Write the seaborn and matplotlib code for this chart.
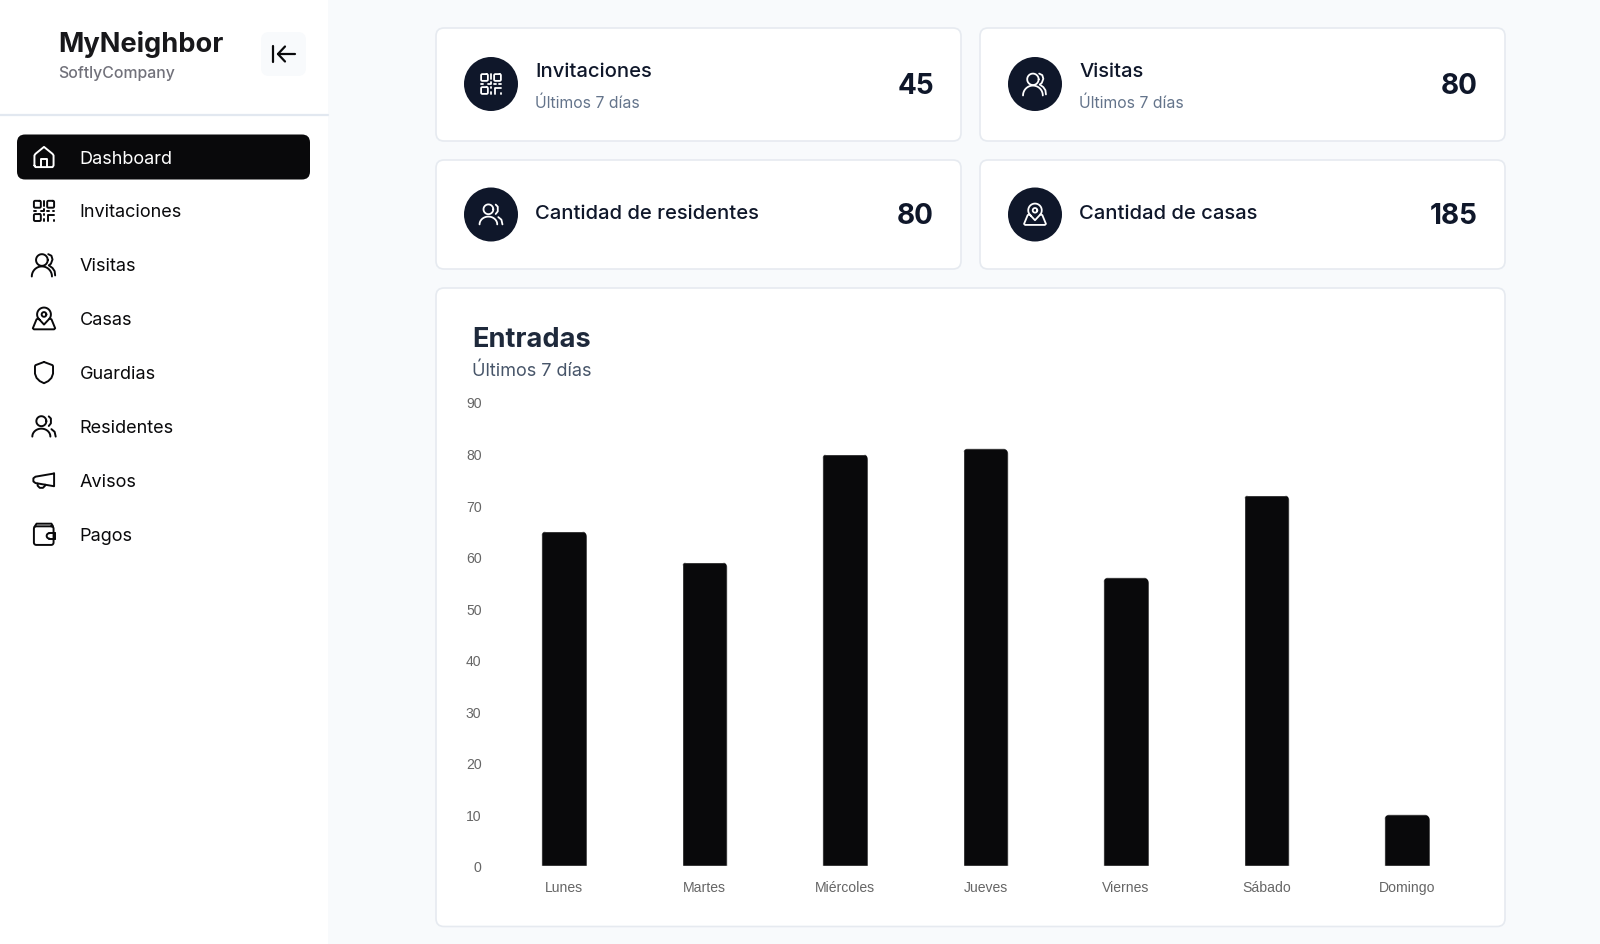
import numpy as np
import pandas as pd
import seaborn as sns
import matplotlib
matplotlib.use("Agg")
import matplotlib.pyplot as plt
from matplotlib.patches import FancyBboxPatch, Rectangle, Circle
from matplotlib.path import Path
from matplotlib.transforms import IdentityTransform

days = ["Lunes", "Martes", "Miércoles", "Jueves", "Viernes", "Sábado", "Domingo"]
entries = [65, 59, 80, 81, 56, 72, 10]
y_ticks = [0, 10, 20, 30, 40, 50, 60, 70, 80, 90]
nav_items = ["Dashboard", "Invitaciones", "Visitas", "Casas", "Guardias", "Residentes", "Avisos", "Pagos"]
nav_icons = ["home", "qr", "users2", "pin", "shield", "users", "mega", "wallet"]

W, H = 1600, 945
sns.set_theme(style="white")
plt.rcParams["font.family"] = ["Inter", "DejaVu Sans"]

fig = plt.figure(figsize=(W / 100, H / 100), dpi=100, facecolor="#f8fafc")
bg = fig.add_axes([0, 0, 1, 1], zorder=0)
bg.set_xlim(0, W); bg.set_ylim(H, 0); bg.axis("off")


def px(v):
    return v * 0.72


def box(x0, y0, x1, y1, r, fc, ec="none", lw=0.0, z=1):
    bg.add_patch(FancyBboxPatch((x0 + r, y0 + r), x1 - x0 - 2 * r, y1 - y0 - 2 * r,
                                boxstyle=f"round,pad={r},rounding_size={r}",
                                fc=fc, ec=ec, lw=lw, zorder=z))


def arc(cx, cy, rx, ry, a0, a1, n=30):
    t = np.radians(np.linspace(a0, a1, n))
    return np.c_[cx + rx * np.cos(t), cy + ry * np.sin(t)]


def rrect(x0, y0, x1, y1, r):
    return np.vstack([arc(x1 - r, y0 + r, r, r, -90, 0, 8), arc(x1 - r, y1 - r, r, r, 0, 90, 8),
                      arc(x0 + r, y1 - r, r, r, 90, 180, 8), arc(x0 + r, y0 + r, r, r, 180, 270, 8),
                      [[x1 - r, y0]]])


ICONS = {
    "home": [np.array([[3, 20], [3, 10.5], [4, 9], [12, 2.5], [20, 9], [21, 10.5], [21, 20], [20, 21.5], [4, 21.5], [3, 20]]),
             np.array([[9, 21.5], [9, 14], [15, 14], [15, 21.5]])],
    "qr": [rrect(2.5, 2.5, 9, 9, 1.2), rrect(15, 2.5, 21.5, 9, 1.2), rrect(2.5, 15, 9, 21.5, 1.2),
           np.array([[12, 2.5], [12, 7]]), np.array([[12, 10], [12, 12], [9.5, 12]]), np.array([[2.5, 12], [4.5, 12]]),
           np.array([[15, 12], [16.5, 12]]), np.array([[20, 12], [21.5, 12]]), np.array([[12, 15], [12, 16]]),
           np.array([[12, 20], [12, 21.5]]),
           np.array([[15.5, 21.5], [15.5, 15.5], [21.5, 15.5]]), np.array([[21.5, 21], [21.5, 21.5]])],
    "users2": [arc(10, 7.5, 5.5, 5.5, 0, 360), arc(10, 23, 9.5, 9.5, 180, 360, 20)[:20],
               np.array([[16, 2], [19, 3.5], [20, 7], [18.5, 11], [16.5, 12.5], [20, 15], [22, 18], [22.5, 22]])],
    "users": [arc(9.5, 7, 4.7, 4.7, 0, 360), arc(9.5, 21.5, 8.5, 7.5, 180, 360, 20),
              np.array([[16.5, 2.5], [18.5, 4.5], [18.5, 9], [16.5, 11.5]]), np.array([[19, 14.5], [22, 17], [23, 21.5]])],
    "pin": [np.vstack([arc(12, 8, 6.5, 6.5, 130, 410), [[12, 17.5]], arc(12, 8, 6.5, 6.5, 130, 131, 2)]),
            arc(12, 8, 2.2, 2.2, 0, 360),
            np.array([[7, 12], [5, 12.5], [1.5, 21], [2.5, 22], [21.5, 22], [22.5, 21], [19, 12.5], [17, 12]])],
    "shield": [np.array([[12, 2], [4, 5], [3.5, 6], [3.5, 13], [5, 17], [8, 20], [12, 22], [16, 20], [19, 17], [20.5, 13], [20.5, 6], [20, 5], [12, 2]])],
    "mega": [np.array([[21.5, 5.5], [21.5, 17.5], [4, 14.5], [2, 13], [2, 10], [4, 8.5], [21.5, 5.5]]),
             np.array([[6, 15], [6, 17], [8, 19], [11, 19], [13, 17], [13, 16]])],
    "wallet": [rrect(2.5, 4.5, 21, 22, 2.2), np.array([[3, 5], [5, 2], [19, 2], [20.5, 4.5]]),
               np.array([[22, 11], [17, 11]]), arc(17, 13.5, 2.5, 2.5, 90, 270, 12), np.array([[22, 16], [17, 16]]),
               np.array([[22, 11], [22, 16]])],
}


def icon(name, cx, cy, size, color, lw):
    k = size / 24.0
    for seg in ICONS[name]:
        seg = np.asarray(seg, float)
        bg.plot(cx + (seg[:, 0] - 12) * k, cy + (seg[:, 1] - 12) * k, color=color, lw=lw,
                solid_capstyle="round", solid_joinstyle="round", zorder=5)


# Sidebar
bg.add_patch(Rectangle((0, 0), 328, H, fc="white", ec="none", zorder=1))
bg.plot([0, 328], [116, 116], color="#e2e8f0", lw=1.6, zorder=2)
bg.text(58, 44, "MyNeighbor", fontsize=px(27.2), fontweight="bold", color="#18181b", va="center", ha="left", zorder=5)
bg.text(58.5, 73.5, "SoftlyCompany", fontsize=px(15.8), fontweight="medium", color="#71717a", va="center", ha="left", zorder=5)
box(261, 33, 306, 77, 8, "#f8fafc")
bg.plot([273, 273], [46.5, 63], color="#09090b", lw=1.6, solid_capstyle="round", zorder=5)
bg.plot([295, 278], [55, 55], color="#09090b", lw=1.6, solid_capstyle="round", zorder=5)
bg.plot([285, 278, 285], [47.5, 55, 62.5], color="#09090b", lw=1.6, solid_capstyle="round", solid_joinstyle="round", zorder=5)
box(17, 135.5, 310, 180.5, 8, "#09090b", z=2)
for i, (label, ic) in enumerate(zip(nav_items, nav_icons)):
    yy = 158 + i * 53.9
    c = "white" if i == 0 else "#09090b"
    bg.text(79.5, yy + 1, label, fontsize=px(18.1), color=c, va="center", ha="left", zorder=5)
    icon(ic, 44, yy, 25.5, c, 1.4)

# Stat cards
cards = [(436, 961, 29, 142, "qr", "Invitaciones", "45", True),
         (980, 1505, 29, 142, "users2", "Visitas", "80", True),
         (436, 961, 161, 270, "users", "Cantidad de residentes", "80", False),
         (980, 1505, 161, 270, "pin", "Cantidad de casas", "185", False)]
for x0, x1, y0, y1, ic, title, num, sub in cards:
    box(x0, y0, x1, y1, 8, "white", "#e6eaf0", 1.2)
    cy = (y0 + y1) / 2 - (0.5 if sub else 0)
    bg.add_patch(Circle((x0 + 55, cy), 27, fc="#0f172a", ec="none", zorder=3))
    icon(ic, x0 + 55, cy, 25, "white", 1.3)
    if sub:
        bg.text(x0 + 99, 72, title, fontsize=px(20.2), fontweight="medium", color="#0f172a", va="center", zorder=5)
        bg.text(x0 + 99, 103, "Últimos 7 días", fontsize=px(15.8), color="#64748b", va="center", zorder=5)
    else:
        bg.text(x0 + 99, 214, title, fontsize=px(20.2), fontweight="medium", color="#0f172a", va="center", zorder=5)
    bg.text(x1 - 27, cy + 1, num, fontsize=px(28), fontweight="bold", color="#0f172a", va="center", ha="right", zorder=5)

# Chart card
box(436, 289, 1505, 927.5, 8, "white", "#e6eaf0", 1.2)
bg.text(472.5, 340, "Entradas", fontsize=px(27.2), fontweight="bold", color="#1e293b", va="center", zorder=5)
bg.text(472.5, 371.5, "Últimos 7 días", fontsize=px(18), color="#475569", va="center", zorder=5)

# Chart
L, R, T, B = 493.75, 1477.25, 403, 867
ax = fig.add_axes([L / W, 1 - B / H, (R - L) / W, (B - T) / H], zorder=2)
ax.patch.set_alpha(0)
df = pd.DataFrame({"dia": days, "entradas": entries})
sns.barplot(data=df, x="dia", y="entradas", color="#09090b", saturation=1, width=0.325, ax=ax)
ax.set_ylim(0, 90)
ax.set_xlim(-0.5, len(days) - 0.5)
ax.set_yticks(y_ticks)
ax.set_xlabel(""); ax.set_ylabel("")
sns.despine(ax=ax, left=True, bottom=True)
ax.grid(False)
ax.tick_params(axis="both", length=0, labelcolor="#666666", labelsize=px(14))
ax.tick_params(axis="y", pad=(L - 481.5) * 0.72)
ax.tick_params(axis="x", pad=(881 - B) * 0.72)
for t in ax.get_xticklabels() + ax.get_yticklabels():
    t.set_fontfamily(["Liberation Sans", "DejaVu Sans"])
fig.canvas.draw()
for bar in ax.patches:
    (xa, ya), (xb, yb) = ax.transData.transform([(bar.get_x(), bar.get_height()), (bar.get_x() + bar.get_width(), 0)])
    r = 6
    outline = np.vstack([[[xa, yb - 5]], arc(xa + r, ya - r, r, r, 180, 90, 12),
                         arc(xb - r, ya - r, r, r, 90, 0, 12), [[xb, yb - 5]], [[xa, yb - 5]]])
    bar.set_clip_path(Path(outline, closed=True), IdentityTransform())

fig.savefig("out.png", dpi=100, facecolor=fig.get_facecolor())
